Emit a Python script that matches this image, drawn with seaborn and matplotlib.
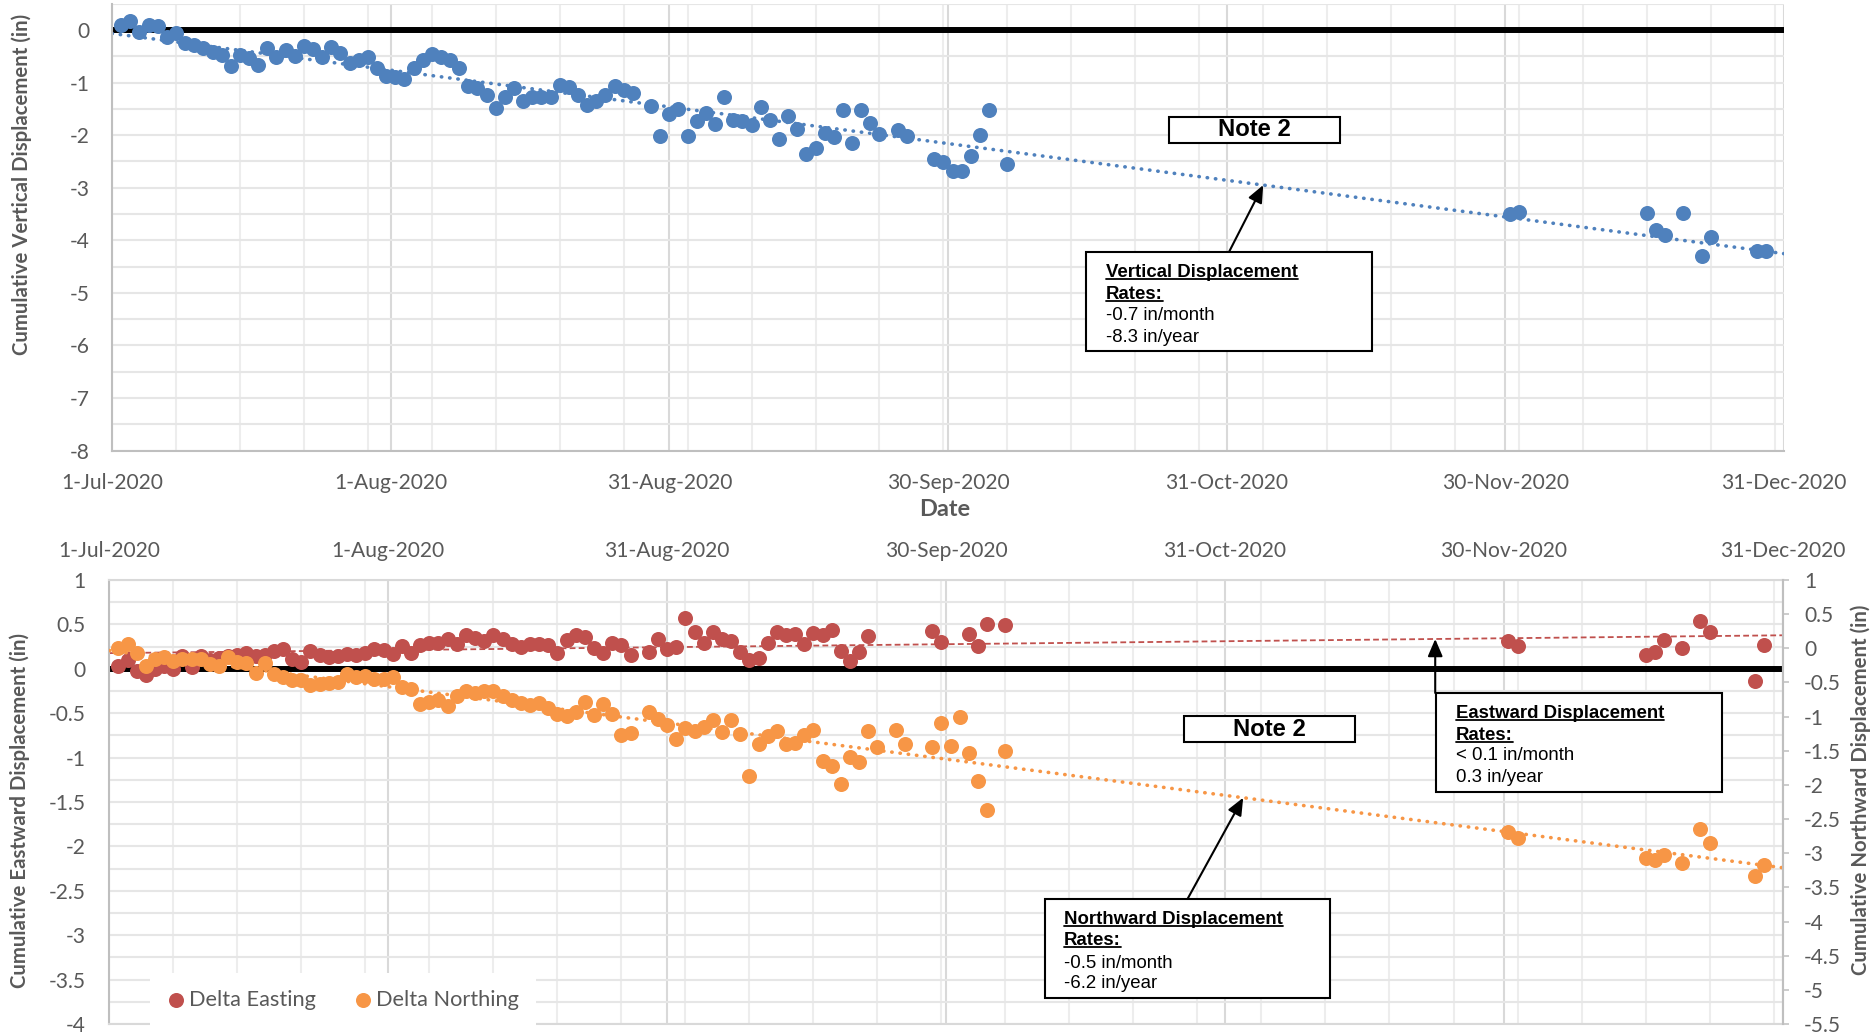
import numpy as np
import pandas as pd
import matplotlib
matplotlib.use("Agg")
import matplotlib.pyplot as plt
import matplotlib.dates as mdates
from matplotlib.patches import Rectangle
from matplotlib.lines import Line2D
from matplotlib.ticker import FixedLocator, FixedFormatter, MultipleLocator, FuncFormatter
import seaborn as sns

# ---------------- data ----------------
XTICK_LABELS = ["1-Jul-2020", "1-Aug-2020", "31-Aug-2020", "30-Sep-2020",
                "31-Oct-2020", "30-Nov-2020", "31-Dec-2020"]

# survey dates (month-day, 2020) for vertical & northing series
DATES_VN = ["07-02", "07-03", "07-04", "07-05", "07-06", "07-07", "07-08", "07-09", "07-10", "07-11",
            "07-12", "07-13", "07-14", "07-15", "07-16", "07-17", "07-18", "07-19", "07-20", "07-21",
            "07-22", "07-23", "07-24", "07-25", "07-26", "07-27", "07-28", "07-29", "07-30", "07-31",
            "08-01", "08-02", "08-03", "08-04", "08-05", "08-06", "08-07", "08-08", "08-09", "08-10",
            "08-11", "08-12", "08-13", "08-14", "08-15", "08-16", "08-17", "08-18", "08-19", "08-20",
            "08-21", "08-22", "08-23", "08-24", "08-25", "08-26", "08-27",
            "08-29", "08-30", "08-31",
            "09-01", "09-02", "09-03", "09-04", "09-05", "09-06", "09-07", "09-08", "09-09", "09-10",
            "09-11", "09-12", "09-13", "09-14", "09-15", "09-16", "09-17", "09-18", "09-19", "09-20",
            "09-21", "09-22", "09-23",
            "09-25", "09-26", "09-29", "09-30",
            "10-01", "10-02", "10-03", "10-04", "10-05", "10-07",
            "12-01", "12-02", "12-16", "12-17", "12-18", "12-20", "12-22", "12-23", "12-28", "12-29"]

VERTICAL = [0.10, 0.18, -0.03, 0.10, 0.08, -0.14, -0.06, -0.25, -0.29, -0.35,
            -0.41, -0.48, -0.68, -0.48, -0.54, -0.67, -0.35, -0.51, -0.38, -0.49,
            -0.30, -0.37, -0.52, -0.32, -0.43, -0.63, -0.57, -0.51, -0.73, -0.87,
            -0.90, -0.94, -0.73, -0.58, -0.46, -0.51, -0.57, -0.73, -1.06, -1.11,
            -1.24, -1.49, -1.27, -1.11, -1.36, -1.27, -1.27, -1.28, -1.05, -1.09,
            -1.24, -1.43, -1.36, -1.24, -1.06, -1.14, -1.19,
            -1.44, -2.02, -1.60,
            -1.50, -2.02, -1.73, -1.57, -1.79, -1.27, -1.71, -1.73, -1.81, -1.47,
            -1.71, -2.07, -1.63, -1.89, -2.36, -2.25, -1.95, -2.04, -1.53, -2.14,
            -1.52, -1.77, -1.98,
            -1.90, -2.02, -2.45, -2.52,
            -2.68, -2.68, -2.40, -2.00, -1.53, -2.54,
            -3.50, -3.47, -3.49, -3.80, -3.90, -3.49, -4.30, -3.94, -4.21, -4.20]

NORTHING = [0.01, 0.06, -0.07, -0.26, -0.16, -0.13, -0.18, -0.15, -0.16, -0.16,
            -0.23, -0.26, -0.12, -0.20, -0.21, -0.36, -0.21, -0.38, -0.42, -0.47,
            -0.47, -0.54, -0.52, -0.51, -0.49, -0.37, -0.42, -0.41, -0.45, -0.45,
            -0.42, -0.57, -0.59, -0.81, -0.78, -0.76, -0.85, -0.70, -0.62, -0.65,
            -0.62, -0.63, -0.70, -0.76, -0.80, -0.83, -0.80, -0.88, -0.96, -0.99,
            -0.93, -0.78, -0.98, -0.81, -0.96, -1.27, -1.24,
            -0.93, -1.03, -1.12,
            -1.33, -1.17, -1.21, -1.15, -1.05, -1.22, -1.05, -1.25, -1.87, -1.40,
            -1.28, -1.21, -1.40, -1.38, -1.27, -1.19, -1.65, -1.72, -1.99, -1.59,
            -1.66, -1.21, -1.45,
            -1.19, -1.40, -1.45, -1.09,
            -1.43, -1.00, -1.53, -1.94, -2.36, -1.50,
            -2.69, -2.78, -3.07, -3.10, -3.03, -3.15, -2.65, -2.85, -3.34, -3.17]

# survey dates for easting series
DATES_E = ["07-02", "07-03", "07-04", "07-05", "07-06", "07-07", "07-08", "07-09", "07-10", "07-11",
           "07-12", "07-13", "07-14", "07-15", "07-16", "07-17", "07-18", "07-19", "07-20", "07-21",
           "07-22", "07-23", "07-24", "07-25", "07-26", "07-27", "07-28", "07-29", "07-30", "07-31",
           "08-01", "08-02", "08-03", "08-04", "08-05", "08-06", "08-07", "08-08", "08-09", "08-10",
           "08-11", "08-12", "08-13", "08-14", "08-15", "08-16", "08-17", "08-18", "08-19", "08-20",
           "08-21", "08-22", "08-23", "08-24", "08-25", "08-26", "08-27",
           "08-29", "08-30", "08-31",
           "09-01", "09-02", "09-03", "09-04", "09-05", "09-06", "09-07", "09-08", "09-09", "09-10",
           "09-11", "09-12", "09-13", "09-14", "09-15", "09-16", "09-17", "09-18", "09-19", "09-20",
           "09-21", "09-22",
           "09-29", "09-30", "10-03", "10-04", "10-05", "10-07",
           "12-01", "12-02", "12-16", "12-17", "12-18", "12-20", "12-22", "12-23", "12-28", "12-29"]

EASTING = [0.03, 0.10, -0.03, -0.07, 0.00, 0.03, 0.00, 0.14, 0.02, 0.14,
           0.10, 0.12, 0.14, 0.16, 0.18, 0.14, 0.16, 0.20, 0.22, 0.11,
           0.08, 0.20, 0.16, 0.13, 0.14, 0.17, 0.16, 0.18, 0.22, 0.21,
           0.17, 0.26, 0.18, 0.27, 0.29, 0.29, 0.34, 0.28, 0.38, 0.35,
           0.31, 0.38, 0.33, 0.28, 0.24, 0.28, 0.28, 0.27, 0.18, 0.32,
           0.38, 0.36, 0.23, 0.18, 0.29, 0.27, 0.15,
           0.19, 0.33, 0.22,
           0.24, 0.57, 0.41, 0.29, 0.42, 0.34, 0.31, 0.19, 0.10, 0.12,
           0.29, 0.41, 0.38, 0.39, 0.28, 0.40, 0.38, 0.44, 0.20, 0.09,
           0.19, 0.37,
           0.43, 0.30, 0.39, 0.26, 0.50, 0.49,
           0.31, 0.26, 0.16, 0.19, 0.32, 0.23, 0.54, 0.41, -0.14, 0.27]

SERIES_LABELS = ["Delta Easting", "Delta Northing"]
VERT_BOX = ["Vertical Displacement", "Rates:", "-0.7 in/month", "-8.3 in/year"]
EAST_BOX = ["Eastward Displacement", "Rates:", "< 0.1 in/month", "0.3 in/year"]
NORTH_BOX = ["Northward Displacement", "Rates:", "-0.5 in/month", "-6.2 in/year"]
NOTE = "Note 2"

# ---------------- style ----------------
BLUE, RED, ORANGE = "#4F81BD", "#C0504D", "#F79646"
GRAY = "#595959"
ARIAL = ["Liberation Sans", "DejaVu Sans"]

sns.set_style("white")
plt.rcParams["font.family"] = ["Lato", "DejaVu Sans"]
plt.rcParams["axes.unicode_minus"] = False

W, H = 1874, 1036
fig = plt.figure(figsize=(W / 100, H / 100), dpi=100)
renderer = fig.canvas.get_renderer()


def fit_size(s, target, dim="w", **kw):
    t = fig.text(0, 0, s, fontsize=20, **kw)
    bb = t.get_window_extent(renderer)
    t.remove()
    return 20 * target / (bb.width if dim == "w" else bb.height)


fs_tick = fit_size("1-Jul-2020", 102)
fs_ylab = fit_size("Cumulative Vertical Displacement (in)", 342, "h", rotation=90, weight="bold")
fs_elab = fit_size("Cumulative Eastward Displacement (in)", 355, "h", rotation=90, weight="bold")
fs_date = fit_size("Date", 51, weight="bold")
fs_leg = fit_size("Delta Easting", 127)
fs_ann = fit_size("Vertical Displacement", 193, family=ARIAL, weight="bold")
fs_note = fit_size(NOTE, 73, family=ARIAL, weight="bold")


def px_axes(l, t, r, b):
    return fig.add_axes([l / W, 1 - b / H, (r - l) / W, (b - t) / H])


ax1 = px_axes(112, 3.7, 1784, 450.6)
ax2 = px_axes(109.3, 580, 1782.7, 1024)
ax3 = ax2.twinx()

start = pd.Timestamp("2020-07-01")
x0 = mdates.date2num(start)
x1 = x0 + 183
vn_x = mdates.date2num(pd.to_datetime(["2020-" + d for d in DATES_VN]))
e_x = mdates.date2num(pd.to_datetime(["2020-" + d for d in DATES_E]))
for a in (ax1, ax2):
    a.set_xlim(x0, x1)

fmt = FuncFormatter(lambda v, p: f"{round(v, 2) + 0:g}")
major_x = x0 + 30.5 * np.arange(len(XTICK_LABELS))
minor_x = x0 + np.arange(7, 183, 7)
dotted = dict(lw=2.6, linestyle=(0, (0.1, 2.2)), dash_capstyle="round", zorder=2.5)

# ---------------- top chart ----------------
ax1.set_ylim(-8, 0.5)
ax1.axhline(0, color="black", lw=4.3, zorder=2)
sns.regplot(x=vn_x, y=VERTICAL, ax=ax1, scatter=False, ci=None, truncate=False, color=BLUE,
            line_kws=dotted)
sns.scatterplot(x=vn_x, y=VERTICAL, ax=ax1, color=BLUE, s=117, linewidth=0, zorder=3, legend=False)
ax1.set_xlim(x0, x1)
ax1.set_ylim(-8, 0.5)
ax1.xaxis.set_major_locator(FixedLocator(major_x))
ax1.xaxis.set_major_formatter(FixedFormatter(XTICK_LABELS))
ax1.xaxis.set_minor_locator(FixedLocator(minor_x))
ax1.yaxis.set_major_locator(MultipleLocator(1))
ax1.yaxis.set_minor_locator(MultipleLocator(0.5))
ax1.yaxis.set_major_formatter(fmt)
ax1.tick_params(axis="x", which="both", length=0, pad=16, labelsize=fs_tick, labelcolor=GRAY)
ax1.tick_params(axis="y", which="both", length=0, pad=16.3, labelsize=fs_tick, labelcolor=GRAY)
ax1.grid(True, which="major", axis="x", color="#D9D9D9", lw=1.5, zorder=0)
ax1.grid(True, which="minor", axis="x", color="#EDEDED", lw=1.5, zorder=0)
ax1.grid(True, which="both", axis="y", color="#E6E6E6", lw=1.5, zorder=0)
ax1.set_axisbelow(True)
for s in ("top", "right"):
    ax1.spines[s].set_visible(False)
for s in ("left", "bottom"):
    ax1.spines[s].set_color("#BFBFBF")
    ax1.spines[s].set_linewidth(1.5)
ax1.set_xlabel("")
ax1.set_ylabel("")

# ---------------- bottom chart ----------------
ax2.axhline(0, color="black", lw=4.3, zorder=2)
sns.regplot(x=e_x, y=EASTING, ax=ax2, scatter=False, ci=None, truncate=False, color=RED,
            line_kws=dict(lw=1.3, dashes=(3.2, 1.8), zorder=2.5))
sns.scatterplot(x=e_x, y=EASTING, ax=ax2, color=RED, s=117, linewidth=0, zorder=3,
                label=SERIES_LABELS[0], legend=False)
sns.regplot(x=vn_x, y=NORTHING, ax=ax3, scatter=False, ci=None, truncate=False, color=ORANGE,
            line_kws=dotted)
sns.scatterplot(x=vn_x, y=NORTHING, ax=ax3, color=ORANGE, s=117, linewidth=0, zorder=3,
                label=SERIES_LABELS[1], legend=False)
ax2.set_xlim(x0, x1)
ax2.set_ylim(-4, 1)
ax3.set_ylim(-5.5, 1)
ax2.xaxis.set_major_locator(FixedLocator(major_x))
ax2.xaxis.set_major_formatter(FixedFormatter(XTICK_LABELS))
ax2.xaxis.set_minor_locator(FixedLocator(minor_x))
ax2.xaxis.tick_top()
ax2.tick_params(axis="x", which="both", top=True, bottom=False, labeltop=True, labelbottom=False,
                length=0, pad=14, labelsize=fs_tick, labelcolor=GRAY)
ax2.yaxis.set_major_locator(MultipleLocator(0.5))
ax2.yaxis.set_minor_locator(MultipleLocator(0.25))
ax2.yaxis.set_major_formatter(fmt)
ax2.tick_params(axis="y", which="both", length=0, pad=16.8, labelsize=fs_tick, labelcolor=GRAY)
ax3.yaxis.set_major_locator(MultipleLocator(0.5))
ax3.yaxis.set_major_formatter(fmt)
ax3.tick_params(axis="y", which="major", length=4.3, width=1.1, color="#BFBFBF", direction="out",
                pad=11, labelsize=fs_tick, labelcolor=GRAY)
ax3.tick_params(axis="y", which="minor", length=0)
ax2.grid(True, which="major", axis="x", color="#D9D9D9", lw=1.5)
ax2.grid(True, which="minor", axis="x", color="#EDEDED", lw=1.5)
ax2.grid(True, which="both", axis="y", color="#E6E6E6", lw=1.5)
ax2.set_axisbelow(True)
ax3.grid(False)
for s in ("top", "bottom", "left", "right"):
    ax2.spines[s].set_color("#D9D9D9")
    ax2.spines[s].set_linewidth(1.5)
ax2.spines["left"].set_color("#BFBFBF")
for s in ("top", "bottom", "left"):
    ax3.spines[s].set_visible(False)
ax3.spines["right"].set_color("#BFBFBF")
ax3.spines["right"].set_linewidth(1.5)
for a in (ax2, ax3):
    a.set_xlabel("")
    a.set_ylabel("")

# legend
h2, l2 = ax2.get_legend_handles_labels()
h3, l3 = ax3.get_legend_handles_labels()
leg = ax3.legend(h2 + h3, l2 + l3, loc="center left", bbox_to_anchor=(150 / W, 1 - 1000 / H),
                 bbox_transform=fig.transFigure, ncol=2, frameon=True, fancybox=False,
                 facecolor="white", edgecolor="none", framealpha=1, handlelength=0.8,
                 handletextpad=0.2, columnspacing=1.75, borderpad=0.8, fontsize=fs_leg,
                 labelcolor=GRAY, borderaxespad=0)
leg.set_zorder(20)

# ---------------- axis titles ----------------
fig.text(21.7 / W, 1 - 184 / H, "Cumulative Vertical Displacement (in)", rotation=90, ha="center",
         va="center", weight="bold", size=fs_ylab, color=GRAY)
fig.text(20 / W, 1 - 811 / H, "Cumulative Eastward Displacement (in)", rotation=90, ha="center",
         va="center", weight="bold", size=fs_elab, color=GRAY)
fig.text(1861 / W, 1 - 790 / H, "Cumulative Northward Displacement (in)", rotation=90, ha="center",
         va="center", weight="bold", size=fs_elab, color=GRAY)
fig.text(944.5 / W, 1 - 509 / H, "Date", ha="center", va="center", weight="bold", size=fs_date,
         color=GRAY)


# ---------------- annotation boxes ----------------
def add_rect(l, t, r, b):
    fig.add_artist(Rectangle((l / W, 1 - b / H), (r - l) / W, (b - t) / H, transform=fig.transFigure,
                             facecolor="white", edgecolor="black", lw=1.5, zorder=10))


def rate_box(l, t, r, b, text_x, baselines, lines):
    add_rect(l, t, r, b)
    fs_px = fs_ann / 0.72
    for i, (yb, s) in enumerate(zip(baselines, lines)):
        bold = i < 2
        txt = fig.text(text_x / W, 1 - yb / H, s, ha="left", va="baseline", family=ARIAL,
                       weight="bold" if bold else "normal", size=fs_ann, color="black", zorder=11)
        if bold:
            bb = txt.get_window_extent(renderer)
            yu = (H - yb - 0.12 * fs_px) / H
            fig.add_artist(Line2D([bb.x0 / W, bb.x1 / W], [yu, yu], transform=fig.transFigure,
                                  color="black", lw=1.3, zorder=11))


def note_box(l, t, r, b):
    add_rect(l, t, r, b)
    fig.text((l + r) / 2 / W, 1 - ((t + b) / 2) / H, NOTE, ha="center", va="center", family=ARIAL,
             weight="bold", size=fs_note, color="black", zorder=11)


note_box(1169, 117, 1340, 143)
note_box(1184, 716, 1355, 742)
rate_box(1086, 252, 1372, 351, 1106, [277, 298.5, 320, 341.5], VERT_BOX)
rate_box(1436, 693, 1722, 792, 1456, [718, 739.5, 760, 781.5], EAST_BOX)
rate_box(1045, 899, 1330, 998, 1064, [924, 945, 967.5, 988], NORTH_BOX)

# arrows to trend lines
arrow = dict(arrowstyle="-|>,head_length=0.7,head_width=0.3", mutation_scale=15, color="black",
             lw=1.5, shrinkA=0, shrinkB=0)
cv = np.polyfit(vn_x - x0, VERTICAL, 1)
ce = np.polyfit(e_x - x0, EASTING, 1)
cn = np.polyfit(vn_x - x0, NORTHING, 1)
tv = mdates.date2num(pd.Timestamp("2020-11-04"))
te = mdates.date2num(pd.Timestamp("2020-11-23"))
tn = mdates.date2num(pd.Timestamp("2020-11-02"))
ax1.annotate("", xy=(tv, np.polyval(cv, tv - x0)), xycoords="data",
             xytext=(1229 / W, 1 - 252 / H), textcoords="figure fraction", arrowprops=arrow,
             annotation_clip=False)
ax2.annotate("", xy=(te, np.polyval(ce, te - x0)), xycoords="data",
             xytext=(te, 1 - 693 / H), textcoords=("data", "figure fraction"), arrowprops=arrow,
             annotation_clip=False)
ax3.annotate("", xy=(tn, np.polyval(cn, tn - x0)), xycoords="data",
             xytext=(1187.5 / W, 1 - 899 / H), textcoords="figure fraction", arrowprops=arrow,
             annotation_clip=False)

fig.savefig("out.png", dpi=100, facecolor="white")
